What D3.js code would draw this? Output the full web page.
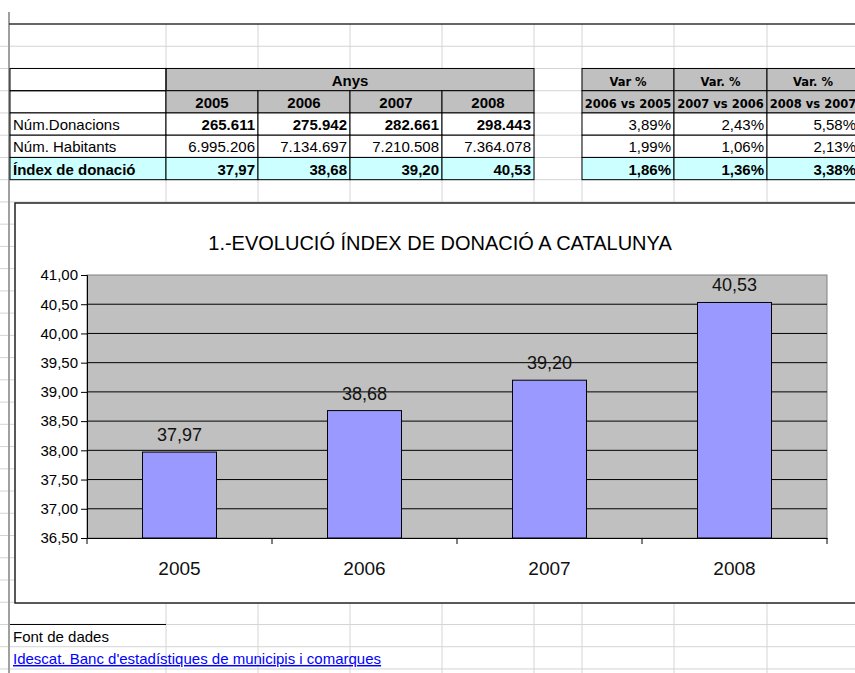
<!DOCTYPE html>
<html>
<head>
<meta charset="utf-8">
<script src="https://cdn.jsdelivr.net/npm/d3@7"></script>
<style>
  body { margin: 0; background: #fff; }
  svg { display: block; }
</style>
</head>
<body>
<script>
// table data
var years = ["2005", "2006", "2007", "2008"];
var rowNames = ["Núm.Donacions", "Núm. Habitants", "Índex de donació"];
var donacions = [265611, 275942, 282661, 298443];
var habitants = [6995206, 7134697, 7210508, 7364078];
var indexDonacio = [37.97, 38.68, 39.20, 40.53];
var varTitles = ["Var %", "Var. %", "Var. %"];
var varLabels = ["2006 vs 2005", "2007 vs 2006", "2008 vs 2007"];
var varDonacions = [3.89, 2.43, 5.58];
var varHabitants = [1.99, 1.06, 2.13];
var varIndex = [1.86, 1.36, 3.38];
var yTicks = [36.5, 37, 37.5, 38, 38.5, 39, 39.5, 40, 40.5, 41];
var chartTitle = "1.-EVOLUCIÓ ÍNDEX DE DONACIÓ A CATALUNYA";

var width = 855, height = 673;

// catalan number format
var loc = d3.formatLocale({decimal: ",", thousands: ".", grouping: [3], currency: ["", " €"]});
var fmtInt = loc.format(",d");
var fmt2 = loc.format(".2f");
var pct = function(d) { return fmt2(d) + "%"; };

var svg = d3.select("body").append("svg")
  .attr("width", width)
  .attr("height", height);

// spreadsheet grid
var colX = [10, 166, 258, 350, 442, 534, 582, 674, 767, 859];
var rowTop = 24, rowH = 22.24, nRows = 29;
var rowY = function(r) { return rowTop + r * rowH; };
var font = "Liberation Sans, Arial, sans-serif";

var grid = svg.append("g");
d3.range(1, nRows + 1).forEach(function(r) {
  grid.append("line")
    .attr("x1", 0).attr("x2", width)
    .attr("y1", rowY(r)).attr("y2", rowY(r))
    .attr("stroke", "#d4d4d4");
});
colX.slice(1).forEach(function(x) {
  grid.append("line")
    .attr("x1", x).attr("x2", x)
    .attr("y1", rowTop).attr("y2", height)
    .attr("stroke", "#d4d4d4");
});
// row header edge on the left
grid.append("line")
  .attr("x1", 9).attr("x2", 9).attr("y1", 12).attr("y2", height)
  .attr("stroke", "#a0a0a0").attr("stroke-width", 2);
grid.append("line")
  .attr("x1", 9).attr("x2", width).attr("y1", rowTop).attr("y2", rowTop)
  .attr("stroke", "#333").attr("stroke-width", 1.5);

// helper to draw a cell
function cell(c1, c2, r, fill) {
  svg.append("rect")
    .attr("x", colX[c1]).attr("y", rowY(r))
    .attr("width", colX[c2] - colX[c1]).attr("height", rowH)
    .attr("fill", fill || "none")
    .attr("stroke", "#000").attr("stroke-width", 1);
}
function txt(x, r, s, anchor, bold, size, fam) {
  svg.append("text")
    .attr("x", x).attr("y", rowY(r) + rowH - 5)
    .attr("text-anchor", anchor)
    .style("font-family", fam || font)
    .style("font-size", (size || 15) + "px")
    .style("font-weight", bold ? "bold" : "normal")
    .text(s);
}

// years block
cell(1, 5, 2, "#c0c0c0");
txt((colX[1] + colX[5]) / 2, 2, "Anys", "middle", true, 15);
cell(0, 1, 2); cell(0, 1, 3);
years.forEach(function(y, i) {
  cell(i + 1, i + 2, 3, "#c0c0c0");
  txt((colX[i + 1] + colX[i + 2]) / 2, 3, y, "middle", true, 15);
});
var rowsData = [donacions, habitants, indexDonacio];
rowsData.forEach(function(arr, k) {
  var fill = k == 2 ? "#ccffff" : "#fff";
  cell(0, 1, 4 + k, fill);
  txt(13, 4 + k, rowNames[k], "start", k == 2, 15);
  arr.forEach(function(v, i) {
    cell(i + 1, i + 2, 4 + k, fill);
    txt(colX[i + 2] - 3, 4 + k, k == 2 ? fmt2(v) : fmtInt(v), "end", k != 1, 15);
  });
});

// variation block
var varRows = [varDonacions, varHabitants, varIndex];
varLabels.forEach(function(l, i) {
  var c = 6 + i;
  cell(c, c + 1, 2, "#c0c0c0");
  cell(c, c + 1, 3, "#c0c0c0");
  txt((colX[c] + colX[c + 1]) / 2, 2, varTitles[i], "middle", true, 11.5, "DejaVu Sans, Verdana, sans-serif");
  txt((colX[c] + colX[c + 1]) / 2, 3, l, "middle", true, 11.5, "DejaVu Sans, Verdana, sans-serif");
  varRows.forEach(function(arr, k) {
    cell(c, c + 1, 4 + k, k == 2 ? "#ccffff" : "#fff");
    txt(colX[c + 1] - 3, 4 + k, pct(arr[i]), "end", k == 2, 15);
  });
});

// source rows
svg.append("line")
  .attr("x1", colX[0]).attr("x2", colX[1])
  .attr("y1", rowY(27)).attr("y2", rowY(27))
  .attr("stroke", "#000");
txt(13, 27, "Font de dades", "start", false, 15);
svg.append("text")
  .attr("x", 13).attr("y", rowY(28) + rowH - 5)
  .style("font-family", font)
  .style("font-size", "15px")
  .style("text-decoration", "underline")
  .attr("fill", "#0000ff")
  .text("Idescat. Banc d'estadístiques de municipis i comarques");

// chart
var chart = svg.append("g");
chart.append("rect")
  .attr("x", 15).attr("y", 203)
  .attr("width", 870).attr("height", 400)
  .attr("fill", "#fff")
  .attr("stroke", "#222").attr("stroke-width", 1.5);

chart.append("text")
  .attr("x", 440).attr("y", 250)
  .attr("text-anchor", "middle")
  .style("font-family", font)
  .style("font-size", "20px")
  .text(chartTitle);

var plot = {left: 87, right: 827, top: 275, bottom: 538};

var xScale = d3.scaleBand()
  .domain(years)
  .range([plot.left, plot.right]);

var yScale = d3.scaleLinear()
  .domain([36.5, 41])
  .range([plot.bottom, plot.top]);

chart.append("rect")
  .attr("x", plot.left).attr("y", plot.top)
  .attr("width", plot.right - plot.left).attr("height", plot.bottom - plot.top)
  .attr("fill", "#c0c0c0")
  .attr("stroke", "#808080");

// gridlines
chart.selectAll(".grid")
  .data(yTicks.slice(1, -1))
  .enter()
  .append("line")
  .attr("x1", plot.left).attr("x2", plot.right)
  .attr("y1", function(d) { return yScale(d); })
  .attr("y2", function(d) { return yScale(d); })
  .attr("stroke", "#000");

// bars
chart.selectAll(".bar")
  .data(indexDonacio)
  .enter()
  .append("rect")
  .attr("x", function(d, i) { return xScale(years[i]) + xScale.bandwidth() * 0.3; })
  .attr("width", xScale.bandwidth() * 0.4)
  .attr("y", function(d) { return yScale(d); })
  .attr("height", function(d) { return yScale(36.5) - yScale(d); })
  .attr("fill", "#9999ff")
  .attr("stroke", "#000");

// value labels
chart.selectAll(".lab")
  .data(indexDonacio)
  .enter()
  .append("text")
  .attr("x", function(d, i) { return xScale(years[i]) + xScale.bandwidth() / 2; })
  .attr("y", function(d) { return yScale(d) - 11; })
  .attr("text-anchor", "middle")
  .style("font-family", font)
  .style("font-size", "18px")
  .attr("fill", "#111")
  .text(function(d) { return fmt2(d); });

// y axis
var yAxis = d3.axisLeft(yScale)
  .tickValues(yTicks)
  .tickSize(6)
  .tickFormat(fmt2);
var gy = chart.append("g")
  .attr("transform", "translate(" + plot.left + ",0)")
  .call(yAxis);
gy.select(".domain").attr("stroke", "#000");
gy.selectAll("text")
  .style("font-family", font)
  .style("font-size", "15px")
  .attr("fill", "#000");

// x axis with ticks between categories
var xAxis = d3.axisBottom(xScale).tickSize(0).tickPadding(24);
var gx = chart.append("g")
  .attr("transform", "translate(0," + plot.bottom + ")")
  .call(xAxis);
gx.select(".domain").attr("stroke", "#000");
gx.selectAll("text")
  .style("font-family", font)
  .style("font-size", "19px")
  .attr("fill", "#111");
gx.selectAll(".sep")
  .data(years.concat(["end"]))
  .enter()
  .append("line")
  .attr("x1", function(d) { return d == "end" ? plot.right : xScale(d); })
  .attr("x2", function(d) { return d == "end" ? plot.right : xScale(d); })
  .attr("y1", 0).attr("y2", 6)
  .attr("stroke", "#000");
</script>
</body>
</html>
